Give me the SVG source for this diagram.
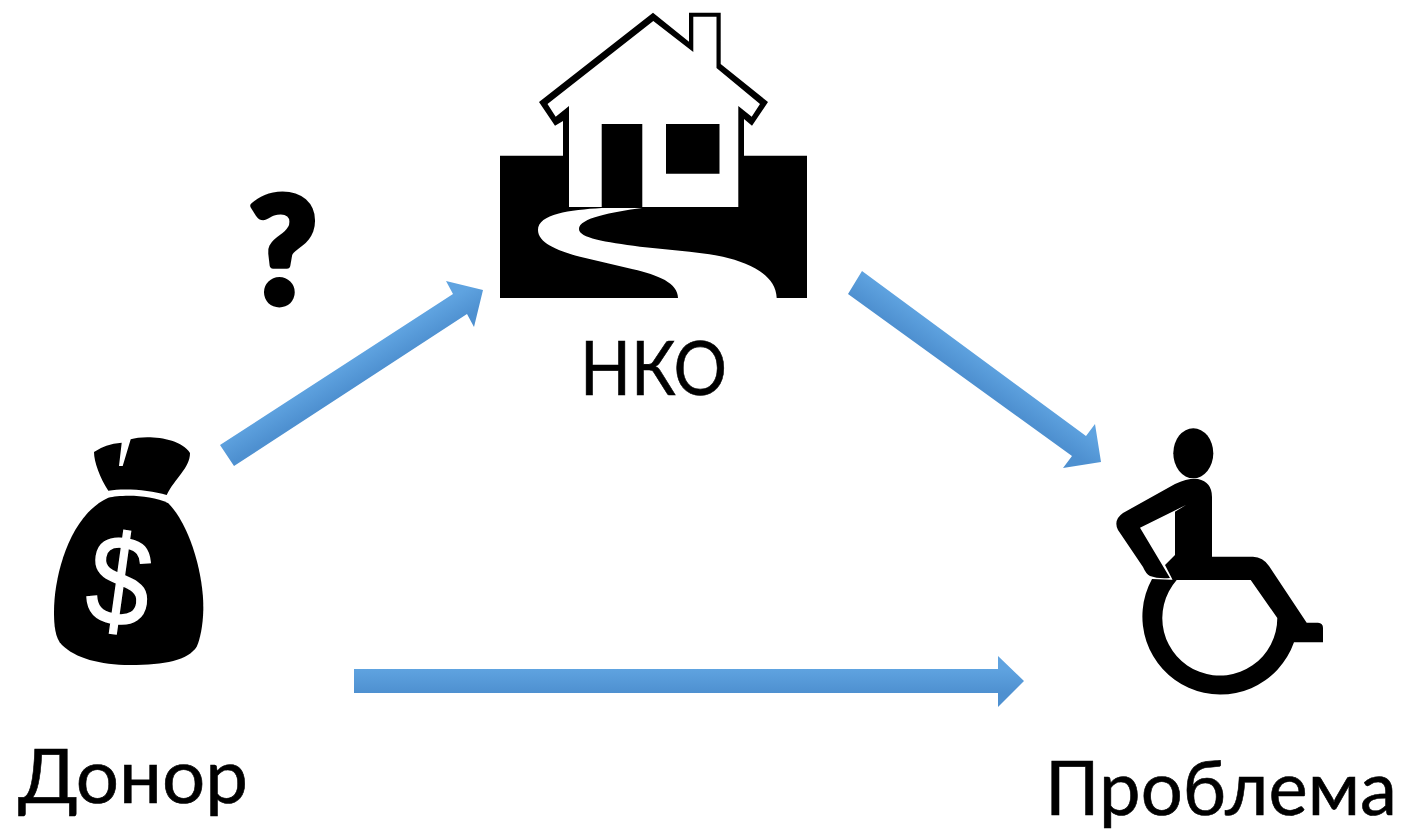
<svg xmlns="http://www.w3.org/2000/svg" width="1414" height="829" viewBox="0 0 1414 829">
<style>
.lbl{font-family:"Lato","Open Sans","Noto Sans",sans-serif;fill:#000;stroke:#000;stroke-width:.6;font-size:76px}
.ico{fill:#000}
.cut{fill:#fff}
</style>
<defs>
<linearGradient id="g1" gradientUnits="userSpaceOnUse" x1="0" y1="669" x2="0" y2="693"><stop offset="0" stop-color="#5fa3e0"/><stop offset="1" stop-color="#4e90d0"/></linearGradient>
<linearGradient id="g2" gradientUnits="userSpaceOnUse" x1="340" y1="367" x2="353" y2="388"><stop offset="0" stop-color="#5fa3e0"/><stop offset="1" stop-color="#4e90d0"/></linearGradient>
<linearGradient id="g3" gradientUnits="userSpaceOnUse" x1="975" y1="352" x2="960" y2="373"><stop offset="0" stop-color="#5fa3e0"/><stop offset="1" stop-color="#4e90d0"/></linearGradient>
</defs>
<rect width="1414" height="829" fill="#fff"/>
<g id="connectors">
<polygon fill="url(#g2)" points="220,445 453,294 446,281 483,290 474,327 467,314 234,466"/>
<polygon fill="url(#g3)" points="862,271 1086,436 1095,424 1101,462 1063,468 1072,456 848,294"/>
<polygon fill="url(#g1)" points="354,669 998,669 998,656 1024,681 998,707 998,693 354,693"/>
</g>
<g id="nko">
<path class="ico" d="M500,155.7H563V121L555,125.7L539,102L653,12.7L689,41.7V12.7H720.7V64L768,102L752,125.7L744,119V155.7H807V298H500Z"/>
<path class="cut" d="M569,106L555.7,116.7L547.5,104L653.3,21L693.3,52V16.7H716.5V68L760,104L751.7,116.7L738.3,106V207H642.3V124H601.7V207H569Z"/>
<path class="ico" d="M666,124H719.5V173.7H666Z"/>
<path class="cut" d="M601.7,208C570,210 538,214 538,230C538,243 558,251 580,256.7L633,269.3C658,275 678,283 678,298H776.7C776,275 750,263 723,256.7C695,251 668,250 640,246.7C605,242 579,238 579,229C579,218 612,212 642,208Z"/>
<text class="lbl" x="580" y="395" textLength="147" lengthAdjust="spacingAndGlyphs">НКО</text>
</g>
<g id="question">
<text x="283" y="303" text-anchor="middle" font-family="Lato,'Open Sans',sans-serif" font-weight="900" font-size="146px" fill="#000" stroke="#000" stroke-width="7" stroke-linejoin="round">?</text>
</g>
<g id="donor">
<path class="ico" d="M94,452Q105,444 121.7,442.7L119,466H122.7L130.7,439.3C145,435 180,437 190,453C190,468 175,478 166.7,495C150,490 125,488 108.3,490.7C100,478 94,462 94,452Z"/>
<path class="ico" d="M108.3,497.7C120,495 150,494 168.3,503.3C190,525 204,575 203.3,610C203,625 200,640 196.7,646.7C188,660 165,665 130,665C100,665 75,658 62,645C55,638 54,625 54,611.7C54,575 70,515 108.3,497.7Z"/>
<text x="0" y="46" text-anchor="middle" transform="translate(120 579) rotate(8) scale(.88 1)" font-family="'Liberation Sans',sans-serif" font-size="128px" fill="#fff" stroke="#fff" stroke-width="1.5">$</text>
<text class="lbl" x="18" y="803" textLength="230" lengthAdjust="spacingAndGlyphs">Донор</text>
</g>
<g id="problem">
<ellipse class="ico" cx="1193.3" cy="453.3" rx="20" ry="25"/>
<path class="ico" d="M1123,513L1175,484Q1188,478 1198,479Q1212,482 1212,497V556.7H1253Q1263,557 1269,566L1306.7,622.7H1318Q1323,623 1323,628V642.3H1294A78,78 0 1 1 1152,579L1176.7,580A57.5,57.5 0 1 0 1277.3,618L1250.7,580H1172.7L1165,565L1175,555V511.7L1186,505L1140,527.7L1170,578Q1158,579 1150,576Q1146,574 1143,567L1118,530Q1113,520 1123,513Z"/>
<text class="lbl" x="1045" y="815" textLength="352" lengthAdjust="spacingAndGlyphs">Проблема</text>
</g>
</svg>
